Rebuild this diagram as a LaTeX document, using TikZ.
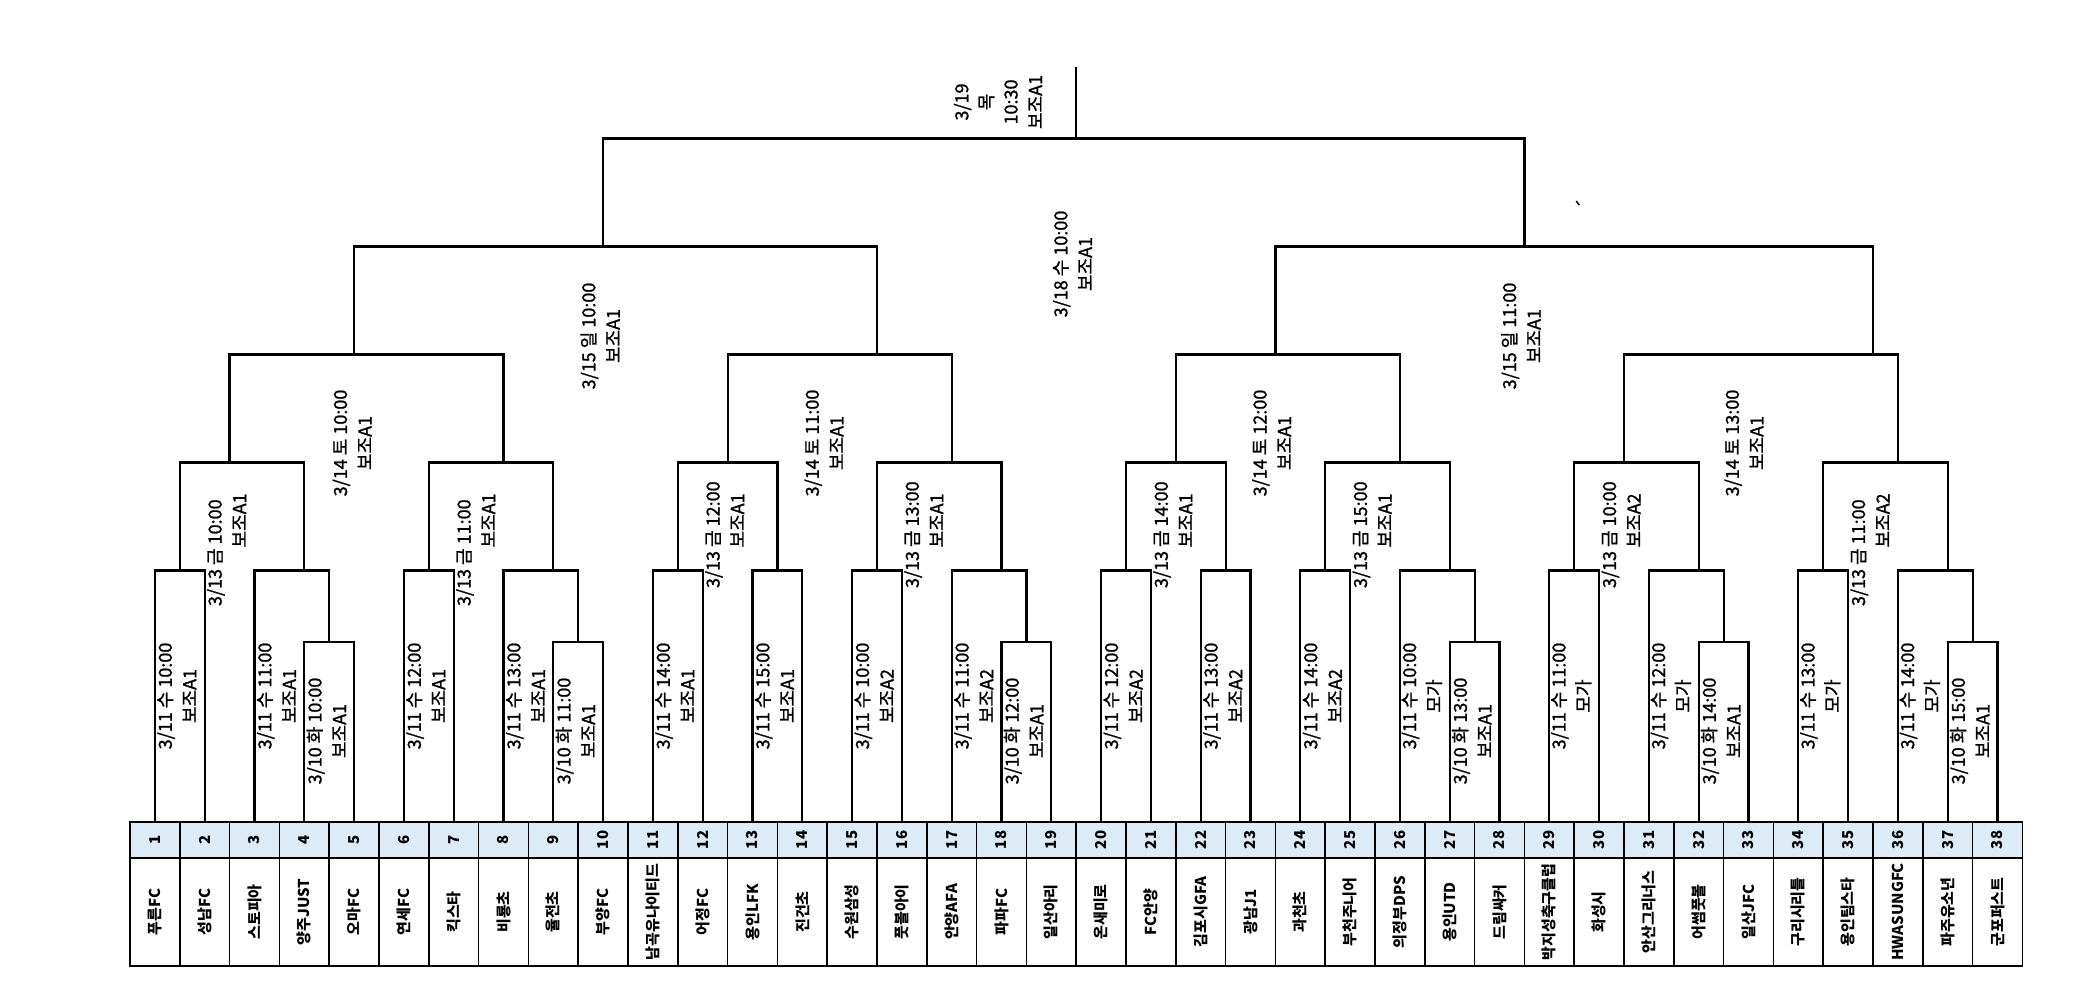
\documentclass[tikz,border=0pt]{standalone}
\usepackage{fontspec}
\setmainfont{Noto Sans CJK KR}
\newfontfamily\lblfam{Noto Sans CJK KR}[FakeBold=1.2]
\definecolor{hdrblue}{RGB}{221,235,247}
\newcommand\lblfont{\lblfam\fontsize{9}{12.3}\selectfont}
\newcommand\teamfont{\fontsize{7.5}{8}\selectfont\bfseries}
\newcommand\numfont{\fontsize{7.5}{8}\selectfont\bfseries}
\tikzstyle{numcell}=[draw, line width=0.8pt, fill=hdrblue, rotate=90, inner sep=0pt,
                     minimum width=18pt, minimum height=24.9pt, font=\numfont]
\tikzstyle{teamcell}=[draw, line width=0.8pt, rotate=90, inner sep=0pt,
                      minimum width=54pt, minimum height=24.9pt, font=\teamfont]
\tikzstyle{br}=[line width=1.1pt]
\tikzstyle{lbl}=[rotate=90, align=center, inner sep=0pt, font=\lblfont]
\tikzstyle{lbltop}=[lbl, align=right, anchor=east]

\begin{document}
\begin{tikzpicture}[x=12.45pt, y=0.5pt]
    \useasboundingbox (-5.2209,0) rectangle (78.7149,1006);
    % table
    \foreach \i in {1,...,38} {
        \node[numcell] (n\i) at ({2*\i-1},166) {\i};
        \coordinate (l\i) at (n\i.east);
    }
    \foreach \name [count=\i] in {푸른FC, 성남FC, 스토피아, 양주JUST, 오마FC, 연세FC, 킥스타, 비룡초,
        율전초, 부양FC, 남곡유나이티드, 어정FC, 용인LFK, 진건초, 수원삼성, 풋볼아이, 안양AFA, 파파FC,
        일산아리, 온새미로, FC안양, 김포시GFA, 광남J1, 과천초, 부천주니어, 의정부DPS, 용인UTD, 드림싸커,
        박지성축구클럽, 화성시, 안산그리너스, 어썸풋볼, 일산JFC, 구리시리틀, 용인팀스타, HWASUNGFC,
        파주유소년, 군포퍼스트}
        \node[teamcell] (t\i) at ({2*\i-1},94) {\name};
    % 3/10
    \foreach \a/\b/\k [count=\j] in {l4/l5/8, l9/l10/18, l18/l19/36, l27/l28/54, l32/l33/64, l37/l38/74} {
        \coordinate (p\j) at (\k,364);
        \draw[br] (\a) |- (p\j) -| (\b);
    }
    % 3/11
    \foreach \a/\b/\k [count=\j] in {l1/l2/2, l3/p1/7, l6/l7/12, l8/p2/17, l11/l12/22, l13/l14/26,
        l15/l16/30, l17/p3/35, l20/l21/40, l22/l23/44, l24/l25/48, l26/p4/53, l29/l30/58, l31/p5/63,
        l34/l35/68, l36/p6/73} {
        \coordinate (r\j) at (\k,435.5);
        \draw[br] (\a) |- (r\j) -| (\b);
    }
    % 3/13
    \foreach \a/\b/\k [count=\j] in {r1/r2/4, r3/r4/15, r5/r6/24, r7/r8/33, r9/r10/42, r11/r12/51,
        r13/r14/60, r15/r16/71} {
        \coordinate (q\j) at (\k,543.4);
        \draw[br] (\a) |- (q\j) -| (\b);
    }
    % 3/14
    \foreach \a/\b/\k [count=\j] in {q1/q2/9, q3/q4/30, q5/q6/46, q7/q8/70} {
        \coordinate (s\j) at (\k,651.4);
        \draw[br] (\a) |- (s\j) -| (\b);
    }
    % 3/15
    \foreach \a/\b/\k [count=\j] in {s1/s2/19, s3/s4/56} {
        \coordinate (h\j) at (\k,759.4);
        \draw[br] (\a) |- (h\j) -| (\b);
    }
    % final
    \coordinate (fin) at (38,867.4);
    \coordinate (top) at (38,939.4);
    \draw[br] (h1) |- (fin) -| (h2);
    \draw[br] (fin) -- (top);
    % labels
    \foreach \k/\t [count=\j] in {7/10:00, 17/11:00, 35/12:00, 53/13:00, 63/14:00, 73/15:00}
        \node[lbl] (lp\j) at ({\k+0.884},275) {3/10 화 \t\\보조A1};
    \foreach \k/\t/\f [count=\j] in {1/10:00/보조A1, 5/11:00/보조A1, 11/12:00/보조A1, 15/13:00/보조A1,
        21/14:00/보조A1, 25/15:00/보조A1, 29/10:00/보조A2, 33/11:00/보조A2, 39/12:00/보조A2,
        43/13:00/보조A2, 47/14:00/보조A2, 51/10:00/모가, 57/11:00/모가, 61/12:00/모가,
        67/13:00/모가, 71/14:00/모가}
        \node[lbl] (lr\j) at ({\k+0.884},310) {3/11 수 \t\\\f};
    \foreach \k/\t/\f/\y/\g [count=\j] in {3/10:00/보조A1/507/-3pt, 13/11:00/보조A1/507/-3pt,
        23/12:00/보조A1/525/6pt, 31/13:00/보조A1/525/6pt, 41/14:00/보조A1/525/6pt,
        49/15:00/보조A1/525/6pt, 59/10:00/보조A2/525/6pt, 69/11:00/보조A2/507/-3pt}
        \node[lbltop] (lq\j) at ({\k+0.884},\y) {3/13 금 \t\\\f\hspace*{\g}};
    \foreach \k/\t [count=\j] in {8.92/10:00, 27.87/11:00, 45.85/12:00, 64.82/13:00}
        \node[lbl] (ls\j) at (\k,563) {3/14 토 \t\\보조A1};
    \node[lbl] (lh1) at (18.88,670) {3/15 일 10:00\\보조A1};
    \node[lbl] (lh2) at (55.86,670) {3/15 일 11:00\\보조A1};
    \node[lbl] (lsemi) at (37.85,742) {3/18 수 10:00\\보조A1};
    \node[lbl] (lfin) at (34.86,904) {3/19\\목\\10:30\\보조A1};
    % stray tick
    \draw[line width=0.8pt] (58.08,805) -- (58.2,801);
\end{tikzpicture}
\end{document}
